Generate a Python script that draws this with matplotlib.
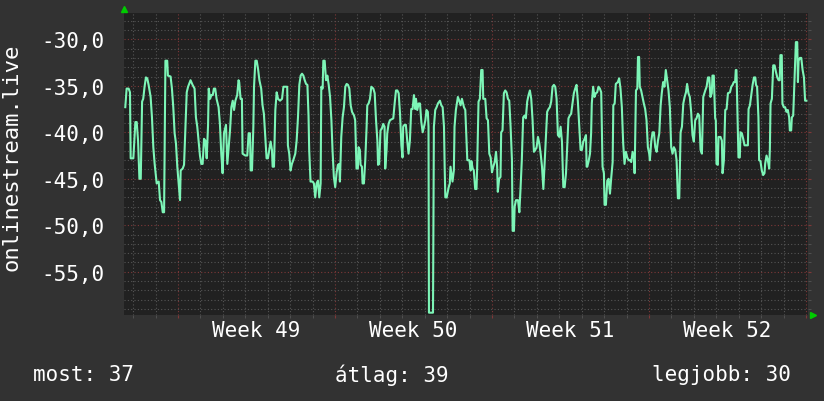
import matplotlib
matplotlib.use("Agg")
import matplotlib.pyplot as plt
import matplotlib.transforms as mtransforms
import numpy as np

# time in days from the start of week 49
days = [
    -2.35, -2.29, -2.20, -2.14, -2.11, -1.99, -1.90, -1.84, -1.78, -1.72,
    -1.66, -1.60, -1.55, -1.49, -1.43, -1.37, -1.31, -1.22, -1.16, -1.10,
    -1.04, -0.95, -0.86, -0.80, -0.74, -0.68, -0.62, -0.56, -0.48, -0.45,
    -0.33, -0.27, -0.21, -0.15, -0.09, -0.03, 0.03, 0.09, 0.12, 0.21,
    0.27, 0.33, 0.39, 0.45, 0.56, 0.65, 0.74, 0.80, 0.86, 0.92,
    0.98, 1.04, 1.10, 1.16, 1.22, 1.28, 1.34, 1.37, 1.43, 1.49,
    1.55, 1.60, 1.66, 1.72, 1.81, 1.87, 1.93, 1.99, 2.05, 2.14,
    2.20, 2.26, 2.32, 2.38, 2.44, 2.50, 2.56, 2.64, 2.70,
    2.73, 2.79, 2.85, 2.88, 3.00, 3.09, 3.15, 3.21, 3.24, 3.30,
    3.36, 3.39, 3.45, 3.51, 3.57, 3.63, 3.71, 3.77, 3.83, 3.89,
    3.95, 4.01, 4.07, 4.13, 4.19, 4.22, 4.28, 4.34, 4.40, 4.46,
    4.55, 4.64, 4.70, 4.87, 4.90, 4.96, 5.02, 5.08, 5.14, 5.23,
    5.29, 5.35, 5.41, 5.47, 5.53, 5.59, 5.65, 5.71, 5.77, 5.82,
    5.85, 5.91, 6.00, 6.06, 6.12, 6.18, 6.24, 6.30, 6.36, 6.39,
    6.45, 6.48, 6.54, 6.60, 6.66, 6.72, 6.78, 6.84, 6.89, 6.95,
    7.01, 7.07, 7.13, 7.19, 7.22, 7.28, 7.34, 7.40, 7.46, 7.52,
    7.58, 7.64, 7.70, 7.76, 7.85, 7.90,
    7.96, 8.02, 8.05, 8.11, 8.14, 8.20, 8.23, 8.29, 8.35, 8.41,
    8.44, 8.50, 8.56, 8.62, 8.71, 8.77, 8.83, 8.89, 8.92, 8.97,
    9.03, 9.09, 9.15, 9.21, 9.24, 9.30, 9.33, 9.39, 9.45, 9.60,
    9.66, 9.72, 9.78, 9.84, 9.90, 9.96, 10.01, 10.04, 10.10, 10.16,
    10.22, 10.28, 10.34, 10.40, 10.46, 10.52, 10.58, 10.61, 10.67, 10.73,
    10.79, 10.85, 10.91, 10.97, 11.03, 11.08, 11.14, 11.17, 11.19, 11.37,
    11.41, 11.47, 11.53, 11.59, 11.68, 11.74, 11.80, 11.86, 11.89, 11.92,
    11.98, 12.07, 12.12, 12.15, 12.24, 12.30, 12.33, 12.39, 12.48, 12.54,
    12.60, 12.66, 12.75, 12.81, 12.90, 12.99, 13.05,
    13.08, 13.14, 13.19, 13.25, 13.31, 13.34, 13.40, 13.46, 13.52, 13.58,
    13.61, 13.70, 13.76, 13.82, 13.88, 13.94, 14.00, 14.06, 14.12, 14.18,
    14.23, 14.26, 14.32, 14.38, 14.41, 14.47, 14.53, 14.59, 14.65, 14.71,
    14.77, 14.83, 14.89, 14.92, 14.98, 15.01, 15.07, 15.16, 15.22, 15.27,
    15.33, 15.39, 15.45, 15.51, 15.57, 15.63, 15.69, 15.75, 15.81, 15.87,
    15.93, 15.99, 16.05, 16.11, 16.17, 16.23, 16.29, 16.34, 16.40, 16.46,
    16.52, 16.58, 16.64, 16.70, 16.76, 16.82, 16.88, 16.94, 17.00, 17.06,
    17.12, 17.18, 17.24, 17.30, 17.35, 17.41, 17.47, 17.53, 17.59, 17.65,
    17.71, 17.77, 17.83, 17.89, 17.95, 18.01, 18.07, 18.13, 18.19, 18.22,
    18.25, 18.31, 18.37, 18.42, 18.45, 18.51, 18.57, 18.63, 18.69, 18.75,
    18.81, 18.87, 18.93, 18.99, 19.02, 19.08, 19.14, 19.20, 19.26, 19.32,
    19.38, 19.41, 19.47, 19.52, 19.61, 19.67, 19.73, 19.79, 19.85, 19.91,
    19.97, 20.03, 20.09, 20.15, 20.21, 20.27, 20.33, 20.36, 20.42, 20.48,
    20.51, 20.56, 20.59, 20.65, 20.71, 20.77, 20.83, 20.89, 20.95, 21.01,
    21.04, 21.10, 21.16, 21.22, 21.28, 21.34, 21.40, 21.46, 21.52, 21.57,
    21.63, 21.69, 21.75, 21.81, 21.87, 21.93, 21.99, 22.05, 22.11, 22.17,
    22.23, 22.29, 22.35, 22.41, 22.47, 22.53, 22.59, 22.65, 22.70, 22.76,
    22.82, 22.88, 22.94, 23.00, 23.06, 23.12, 23.18, 23.24, 23.30, 23.36,
    23.42,
    23.51, 23.57, 23.63, 23.69, 23.74, 23.80, 23.83, 23.89, 23.95, 23.98,
    24.01, 24.07, 24.10, 24.19, 24.25, 24.28, 24.34, 24.40, 24.46, 24.52,
    24.61, 24.67, 24.73, 24.78, 24.84, 24.87, 24.90, 24.96, 24.99, 25.05,
    25.08, 25.14, 25.20, 25.26, 25.41, 25.44, 25.50, 25.56, 25.62, 25.68,
    25.74, 25.77, 25.82, 25.88, 25.91, 25.97, 26.03, 26.09, 26.15, 26.18,
    26.24, 26.30, 26.36, 26.39, 26.42, 26.48, 26.54, 26.60, 26.66, 26.72,
    26.78, 26.83, 26.86, 26.92, 26.95, 27.01, 27.07, 27.13, 27.19, 27.25,
    27.28, 27.34, 27.37, 27.43, 27.49, 27.55, 27.61, 27.64, 27.67, 27.73,
    27.79, 27.85, 27.91, 27.96, 28.02,
]

values = [
    -37.3, -35.3, -35.3, -35.7, -42.8, -42.8, -38.9, -38.9, -40.9, -45.0,
    -45.0, -36.7, -36.4, -35.1, -34.1, -34.2, -34.9, -36.2, -38.4, -41.6,
    -43.4, -45.5, -45.3, -47.3, -47.5, -48.6, -48.6, -32.3, -32.3, -33.9,
    -34.0, -35.3, -37.3, -40.1, -41.2, -43.7, -45.5, -47.3, -44.1, -43.9,
    -43.5, -39.6, -35.7, -35.1, -34.4, -34.9, -35.3, -38.4, -39.4, -40.9,
    -42.5, -43.4, -43.4, -40.7, -40.9, -42.8, -39.3, -35.3, -36.4, -36.0,
    -36.0, -35.3, -35.3, -36.4, -37.3, -39.1, -42.3, -44.4, -40.1, -39.2,
    -43.4, -41.6, -39.8, -37.3, -36.6, -37.6, -36.6, -36.0, -34.4,
    -34.6, -36.4, -36.4, -42.3, -42.5, -42.5, -40.1, -40.1, -44.1, -44.1,
    -39.4, -35.1, -32.3, -32.3, -33.2, -34.4, -35.3, -37.1, -38.0, -40.5,
    -42.8, -42.8, -41.9, -41.0, -41.9, -43.7, -43.7, -37.6, -35.7, -36.4,
    -36.6, -36.4, -35.1, -35.1, -41.4, -42.3, -44.1, -43.4, -43.0, -42.3,
    -40.9, -38.4, -34.9, -33.9, -33.7, -33.9, -34.4, -34.8, -34.9, -38.2,
    -41.9, -45.3, -45.3, -45.5, -47.0, -45.5, -45.2, -47.0, -45.5, -35.1,
    -35.3, -32.3, -32.3, -34.4, -33.9, -34.9, -36.2, -38.7, -41.9, -44.8,
    -45.9, -44.4, -43.5, -43.4, -45.3, -40.5, -38.4, -37.3, -35.1, -34.8,
    -34.9, -35.3, -37.1, -37.8, -38.2, -38.7,
    -43.9, -43.9, -41.6, -41.9, -43.5, -43.7, -45.5, -45.5, -43.0, -39.4,
    -37.1, -36.9, -36.4, -35.1, -35.3, -35.8, -38.7, -40.9, -43.5, -43.4,
    -39.8, -39.6, -39.1, -39.4, -43.9, -41.9, -40.1, -39.1, -38.7, -38.5,
    -36.9, -35.5, -35.5, -35.8, -38.0, -41.4, -42.7, -39.4, -39.2, -39.2,
    -40.9, -42.3, -40.9, -37.5, -37.5, -36.0, -37.5, -36.4, -37.6, -36.9,
    -36.9, -38.9, -40.0, -39.4, -38.7, -37.6, -37.8, -39.4, -59.4, -59.4,
    -39.4, -37.6, -37.3, -36.9, -36.6, -37.1, -37.3, -39.4, -43.7, -47.0,
    -47.0, -45.9, -45.5, -43.7, -45.3, -44.1, -39.4, -37.6, -36.2, -36.6,
    -37.1, -36.4, -37.3, -37.6, -43.0, -43.0, -44.1,
    -43.1, -43.9, -44.1, -46.1, -46.1, -43.7, -36.7, -36.4, -33.3, -33.3,
    -36.4, -36.4, -38.5, -38.7, -42.3, -42.7, -44.3, -43.7, -43.2, -42.1,
    -43.7, -46.4, -45.0, -44.8, -40.0, -39.8, -35.8, -35.5, -35.7, -36.4,
    -36.6, -39.4, -43.0, -50.6, -50.6, -48.0, -47.3, -47.3, -48.6, -46.2,
    -43.0, -38.4, -38.2, -38.5, -36.7, -36.0, -35.5, -36.4, -38.7, -42.1,
    -41.9, -41.6, -40.5, -41.2, -42.3, -43.7, -46.1, -43.7, -41.0, -37.8,
    -37.5, -37.3, -36.7, -35.1, -34.9, -35.1, -36.4, -40.3, -40.5, -39.4,
    -41.0, -45.9, -45.9, -44.4, -41.6, -38.5, -38.2, -38.0, -36.9, -35.8,
    -35.3, -34.9, -36.7, -39.4, -41.9, -41.9, -41.0, -40.7, -40.3, -43.7,
    -43.7, -43.1, -42.3, -40.1, -36.9, -35.1, -36.2, -35.8, -35.7, -35.1,
    -35.3, -35.7, -43.7, -44.4, -47.8, -47.8, -45.2, -45.0, -46.6, -44.8,
    -43.2, -37.1, -36.9, -34.8, -34.6, -34.2, -35.3, -37.3, -41.2, -43.4,
    -42.1, -42.7, -43.0, -43.0, -43.2, -42.1, -42.8, -44.4, -35.5, -35.3,
    -31.9, -31.9, -35.1, -35.5, -36.2, -36.9, -37.5, -38.7, -41.6, -42.3,
    -43.0, -41.0, -40.0, -40.0, -41.6, -42.1, -40.9, -40.1, -37.1, -35.8,
    -34.6, -35.1, -33.3, -34.4, -35.5, -37.3, -41.6, -42.3, -41.6, -41.9,
    -43.0, -47.1, -47.1, -40.0, -39.4, -36.9, -36.2, -35.7, -34.8, -35.8,
    -36.2, -37.8, -40.3, -41.0, -38.7, -38.5, -38.0, -38.2, -41.9, -42.3,
    -36.2,
    -35.5, -35.1, -34.1, -34.1, -36.2, -35.8, -33.9, -33.9, -38.5, -38.7,
    -43.4, -43.5, -40.5, -40.5, -40.9, -44.4, -43.0, -37.6, -37.5, -35.8,
    -35.7, -35.1, -34.9, -34.6, -34.6, -33.3, -33.3, -39.4, -42.7, -42.7,
    -40.0, -40.1, -40.7, -41.4, -41.4, -37.5, -37.1, -36.0, -34.9, -34.1,
    -34.1, -34.9, -35.1, -38.4, -43.0, -43.1, -44.1, -44.6, -44.4, -43.4,
    -42.5, -43.0, -43.9, -41.8, -36.9, -36.4, -32.8, -32.8, -33.5, -34.1,
    -34.4, -34.4, -31.7, -31.7, -36.9, -37.3, -37.3, -37.8, -37.6, -38.4,
    -39.8, -39.8, -38.4, -38.2, -34.4, -30.3, -30.3, -34.6, -32.3, -32.0,
    -32.0, -33.3, -34.1, -36.6, -36.6,
]

y_ticks = [-55, -50, -45, -40, -35, -30]
week_starts = [0, 7, 14, 21, 28]
week_labels = ["Week 49", "Week 50", "Week 51", "Week 52"]
legend_names = ["most", "átlag", "legjobb"]
legend_values = [37, 39, 30]

assert len(days) == len(values)

BG = "#323232"
PLOT_BG = "#212121"
LINE = "#7df5b7"
MINOR = "#555555"
MAJOR = "#7e3838"
ARROW = "#00cc00"
FONT = "DejaVu Sans Mono"
FS = 15

fig = plt.figure(figsize=(8.24, 4.02), dpi=100, facecolor=BG)
ax = fig.add_axes([124 / 824, 1 - 316 / 402, 684 / 824, 302 / 402])
ax.set_facecolor(PLOT_BG)

ax.plot(days, values, color=LINE, lw=1.5, zorder=3)
ax.set_xlim(-2.407, 28.09)
ax.set_ylim(-59.65, -27.17)

# grid: one line per day / per unit, red ones for weeks / every 5
ax.set_xticks(np.arange(-2, 29), minor=True)
ax.set_xticks(week_starts, labels=[""] * len(week_starts))
ax.set_yticks(np.arange(-59, -27), minor=True)
ax.set_yticks(y_ticks, labels=[f"{v:.1f}".replace(".", ",") for v in y_ticks])
ax.set_axisbelow(True)
ax.grid(which="minor", color=MINOR, ls=(0, (1, 2)), lw=0.8)
ax.grid(which="major", color=MAJOR, ls=(0, (1, 2)), lw=0.8)
for s in ax.spines.values():
    s.set_visible(False)

ax.tick_params(which="both", direction="out", length=2, left=False, right=True,
               bottom=True)
ax.tick_params(which="minor", color=MINOR)
ax.tick_params(which="major", color=MAJOR)
ax.tick_params(axis="y", labelsize=FS, labelcolor="white", pad=12)
for lab in ax.get_yticklabels():
    lab.set_family(FONT)

trans = mtransforms.blended_transform_factory(ax.transData, ax.transAxes)
for i, lab in enumerate(week_labels):
    mid = (week_starts[i] + week_starts[i + 1]) / 2
    ax.text(mid, -0.05, lab, transform=trans, ha="center", va="center",
            fontsize=FS, family=FONT, color="white")

# rrdtool style axis arrows
ax.plot([0], [1.013], marker="^", ms=5, color=ARROW, transform=ax.transAxes,
        clip_on=False, zorder=5)
ax.plot([1.007], [0], marker=">", ms=5, color=ARROW, transform=ax.transAxes,
        clip_on=False, zorder=5)

fig.text(12 / 824, 1 - 157 / 402, "onlinestream.live", rotation=90,
         ha="center", va="center", fontsize=16, family=FONT, color="white")

leg_y = 1 - 375 / 402
leg_x = [33 / 824, 392 / 824, 791 / 824]
leg_ha = ["left", "center", "right"]
for name, val, x, ha in zip(legend_names, legend_values, leg_x, leg_ha):
    fig.text(x, leg_y, f"{name}: {val}", ha=ha, va="center", fontsize=FS,
             family=FONT, color="white")

fig.savefig("out.png", dpi=100, facecolor=BG)
